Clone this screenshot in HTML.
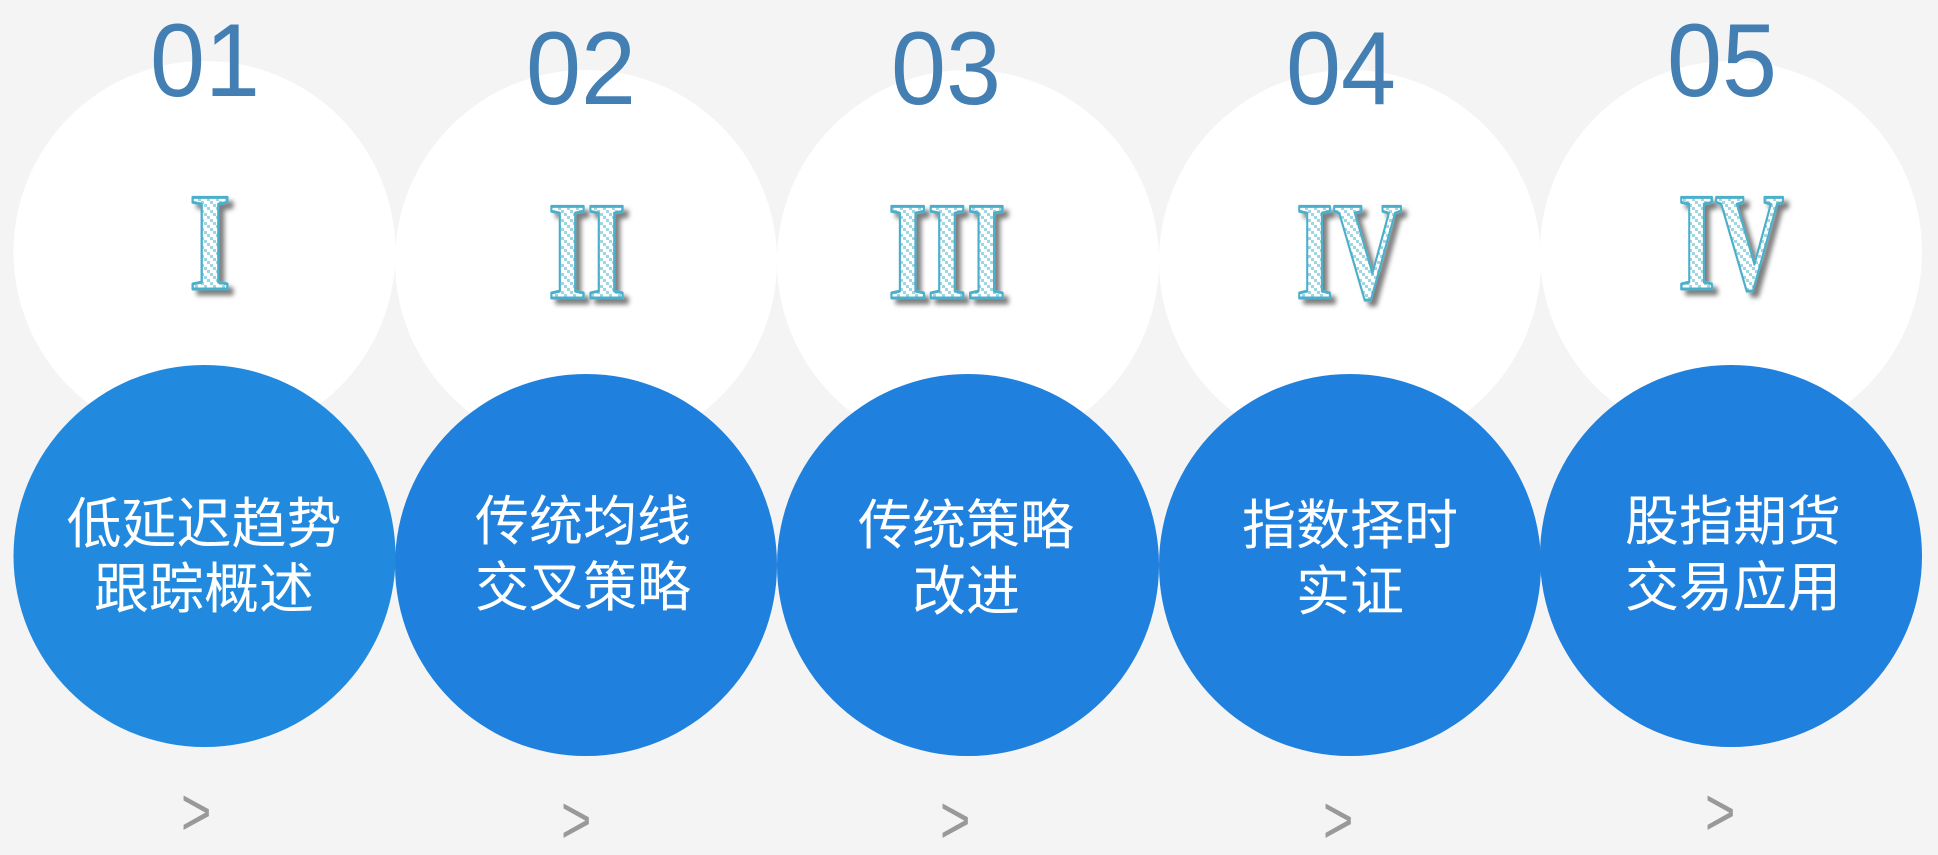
<!DOCTYPE html>
<html lang="zh"><head><meta charset="utf-8"><style>
html,body{margin:0;padding:0;background:#f4f4f4;width:1938px;height:855px;overflow:hidden}
svg{display:block}
.n{font-family:"Liberation Sans",sans-serif;font-size:104px;fill:#437fb3}
.r{font-family:"Liberation Serif",serif;font-weight:bold;font-size:140px;fill:url(#chk);stroke:#4bafca;stroke-width:3;stroke-linejoin:round;filter:url(#sh)}
.c{font-family:"Liberation Sans","Noto Sans CJK SC",sans-serif;font-size:54px;fill:#fff;text-anchor:middle;font-weight:400}
.a{font-family:"Liberation Sans",sans-serif;font-size:52px;fill:#999}
</style></head><body>
<svg width="1938" height="855" viewBox="0 0 1938 855" xmlns="http://www.w3.org/2000/svg">
<defs>
<pattern id="chk" width="9" height="9" patternUnits="userSpaceOnUse">
<rect width="9" height="9" fill="#fff"/>
<rect x="0" y="0" width="3" height="3" fill="#9fd6e4"/>
<rect x="3" y="3" width="3" height="3" fill="#9fd6e4"/>
<rect x="6" y="6" width="3" height="3" fill="#9fd6e4"/>
</pattern>
<filter id="sh" x="-20%" y="-20%" width="150%" height="150%">
<feDropShadow dx="5" dy="5" stdDeviation="2.5" flood-color="#000" flood-opacity=".5"/>
</filter>
</defs>
<rect width="1938" height="855" fill="#f4f4f4"/>
<g fill="#fff">
<circle cx="204.5" cy="252" r="191"/>
<circle cx="586" cy="261" r="191"/>
<circle cx="968" cy="261" r="191"/>
<circle cx="1350" cy="261" r="191"/>
<circle cx="1731" cy="252" r="191"/>
</g>
<circle cx="204.5" cy="556" r="191" fill="#218ade"/>
<g fill="#1f80de">
<circle cx="586" cy="565" r="191"/>
<circle cx="968" cy="565" r="191"/>
<circle cx="1350" cy="565" r="191"/>
<circle cx="1731" cy="556" r="191"/>
</g>
<text class="n" x="150" y="96" textLength="110" lengthAdjust="spacingAndGlyphs">01</text>
<text class="n" x="526" y="104" textLength="110" lengthAdjust="spacingAndGlyphs">02</text>
<text class="n" x="891" y="104" textLength="110" lengthAdjust="spacingAndGlyphs">03</text>
<text class="n" x="1286" y="104" textLength="110" lengthAdjust="spacingAndGlyphs">04</text>
<text class="n" x="1667" y="96" textLength="110" lengthAdjust="spacingAndGlyphs">05</text>
<text class="r" x="189" y="289" textLength="42" lengthAdjust="spacingAndGlyphs">I</text>
<text class="r" x="548" y="298" textLength="78" lengthAdjust="spacingAndGlyphs">II</text>
<text class="r" x="888" y="298" textLength="118" lengthAdjust="spacingAndGlyphs">III</text>
<text class="r" x="1296" y="298" textLength="106" lengthAdjust="spacingAndGlyphs">IV</text>
<text class="r" x="1678" y="289" textLength="106" lengthAdjust="spacingAndGlyphs">IV</text>
<text class="c" style="font-size:55px" x="204" y="543">低延迟趋势</text>
<text class="c" style="font-size:55px" x="204" y="608">跟踪概述</text>
<text class="c" x="583" y="540">传统均线</text>
<text class="c" x="583" y="606">交叉策略</text>
<text class="c" x="966" y="544">传统策略</text>
<text class="c" x="966" y="610">改进</text>
<text class="c" x="1350" y="544">指数择时</text>
<text class="c" x="1350" y="610">实证</text>
<text class="c" x="1733" y="540">股指期货</text>
<text class="c" x="1733" y="606">交易应用</text>
<text class="a" transform="translate(181 835) scale(1 1.3)">&gt;</text>
<text class="a" transform="translate(561 843) scale(1 1.3)">&gt;</text>
<text class="a" transform="translate(940 843) scale(1 1.3)">&gt;</text>
<text class="a" transform="translate(1323 843) scale(1 1.3)">&gt;</text>
<text class="a" transform="translate(1705 835) scale(1 1.3)">&gt;</text>
</svg>
</body></html>
